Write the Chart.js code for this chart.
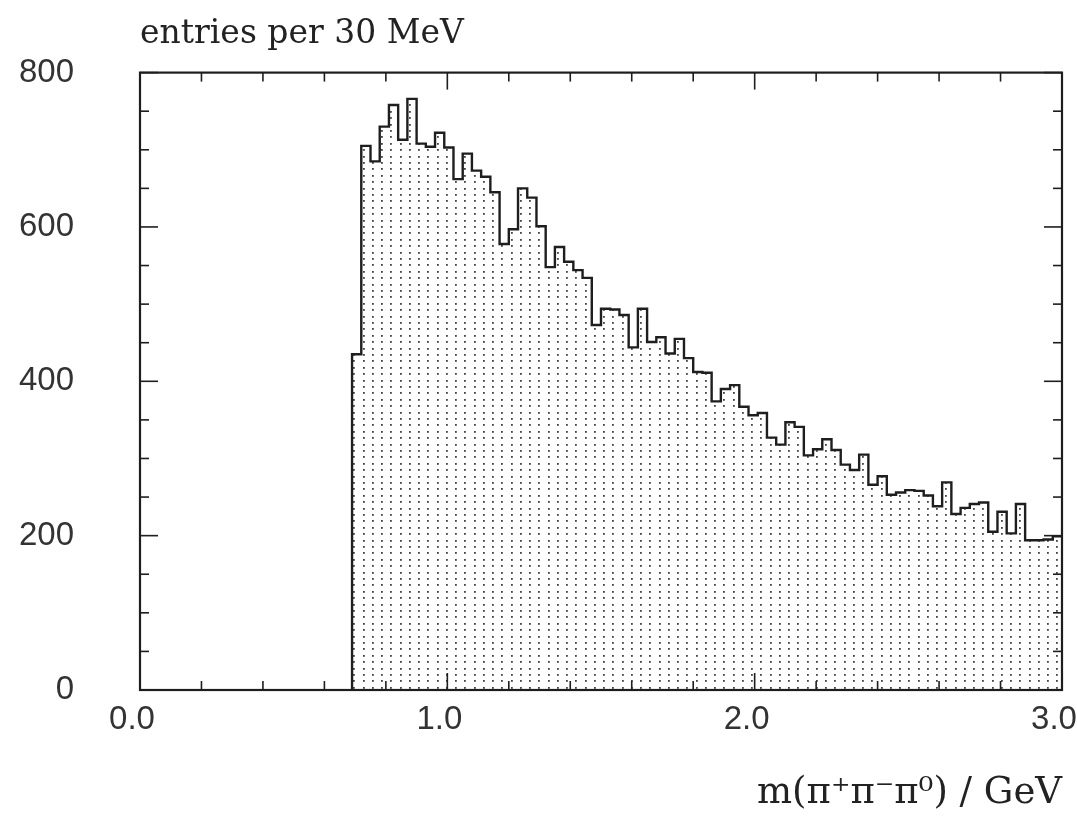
<!DOCTYPE html>
<html>
<head>
<meta charset="utf-8">
<script src="https://cdn.jsdelivr.net/npm/chart.js@4.4.1/dist/chart.umd.min.js"></script>
<style>
  html, body { margin: 0; padding: 0; background: #ffffff; }
  #wrap { width: 1077px; height: 821px; }
</style>
</head>
<body>
<div id="wrap"><canvas id="c" width="1077" height="821"></canvas></div>
<script>
// ---- data ----
const binEdges = [
  0.69, 0.72, 0.75, 0.78, 0.81, 0.84, 0.87, 0.90, 0.93, 0.96,
  0.99, 1.02, 1.05, 1.08, 1.11, 1.14, 1.17, 1.20, 1.23, 1.26,
  1.29, 1.32, 1.35, 1.38, 1.41, 1.44, 1.47, 1.50, 1.53, 1.56,
  1.59, 1.62, 1.65, 1.68, 1.71, 1.74, 1.77, 1.80, 1.83, 1.86,
  1.89, 1.92, 1.95, 1.98, 2.01, 2.04, 2.07, 2.10, 2.13, 2.16,
  2.19, 2.22, 2.25, 2.28, 2.31, 2.34, 2.37, 2.40, 2.43, 2.46,
  2.49, 2.52, 2.55, 2.58, 2.61, 2.64, 2.67, 2.70, 2.73, 2.76,
  2.79, 2.82, 2.85, 2.88, 2.91, 2.94, 2.97, 3.00
];
const counts = [
  435, 705, 685, 730, 758, 713, 766, 708, 704, 722,
  703, 662, 695, 673, 665, 645, 578, 597, 650, 638,
  601, 548, 574, 555, 544, 534, 473, 494, 493, 486,
  444, 494, 451, 457, 436, 455, 430, 412, 411, 374,
  390, 395, 367, 356, 359, 327, 318, 347, 341, 304,
  312, 325, 311, 292, 285, 305, 266, 277, 253, 256,
  259, 258, 252, 238, 269, 228, 236, 241, 243, 205,
  231, 203, 241, 194, 194, 195, 199
];
const xTickLabels = ['0.0', '1.0', '2.0', '3.0'];
const yTickLabels = ['0', '200', '400', '600', '800'];
const titleText = 'entries per 30 MeV';
const xAxisTitle = 'm(\u03C0\u207A\u03C0\u207B\u03C0\u2070) / GeV';

// ---- styles ----
const INK = '#1e1e1e';
const xMinorStep = 0.2, xMajorEvery = 5;
const yMinorStep = 50, yMajorEvery = 4;

const ctx = document.getElementById('c').getContext('2d');

// dotted fill pattern
const tile = document.createElement('canvas');
tile.width = 37; tile.height = 32;
const tctx = tile.getContext('2d');
tctx.fillStyle = '#444';
for (const px of [2, 11, 20, 30]) {
  for (const py of [2, 8, 15, 21, 28]) {
    tctx.fillRect(px, py, 1.8, 1.8);
  }
}
const dots = ctx.createPattern(tile, 'repeat');

// histogram outline points (lower bin edge carries bin value)
const points = [{ x: binEdges[0], y: 0 }];
counts.forEach((c, i) => points.push({ x: binEdges[i], y: c }));
points.push({ x: binEdges[binEdges.length - 1], y: counts[counts.length - 1] });

const frameTicks = {
  id: 'frameTicks',
  afterDraw(chart) {
    const { ctx, chartArea: a, scales: { x, y } } = chart;
    ctx.save();
    ctx.strokeStyle = INK;
    ctx.lineWidth = 2.2;
    ctx.strokeRect(a.left, a.top, a.right - a.left, a.bottom - a.top);
    ctx.lineWidth = 1.6;
    const seg = (x1, y1, x2, y2) => { ctx.beginPath(); ctx.moveTo(x1, y1); ctx.lineTo(x2, y2); ctx.stroke(); };
    const nx = Math.round((x.max - x.min) / xMinorStep);
    for (let k = 0; k <= nx; k++) {
      const px = x.getPixelForValue(x.min + k * xMinorStep);
      const len = (k % xMajorEvery === 0) ? 17 : 9;
      seg(px, a.bottom, px, a.bottom - len);
      seg(px, a.top, px, a.top + len);
    }
    const ny = Math.round((y.max - y.min) / yMinorStep);
    for (let k = 0; k <= ny; k++) {
      const py = y.getPixelForValue(y.min + k * yMinorStep);
      const len = (k % yMajorEvery === 0) ? 18 : 9;
      seg(a.left, py, a.left + len, py);
      seg(a.right, py, a.right - len, py);
    }
    ctx.restore();
  }
};

new Chart(ctx, {
  type: 'line',
  data: {
    datasets: [{
      data: points,
      stepped: 'before',
      borderColor: INK,
      borderWidth: 2.4,
      backgroundColor: dots,
      fill: 'origin',
      pointRadius: 0,
      tension: 0
    }]
  },
  options: {
    responsive: false,
    animation: false,
    devicePixelRatio: 1,
    layout: { padding: { left: 17, right: 15, top: 0, bottom: 3 } },
    plugins: {
      legend: { display: false },
      tooltip: { enabled: false },
      title: {
        display: true,
        text: titleText,
        align: 'start',
        fullSize: false,
        color: '#222',
        font: { family: 'DejaVu Serif', size: 33, weight: 'normal' },
        padding: { top: 15, bottom: 18 }
      }
    },
    scales: {
      x: {
        type: 'linear',
        min: 0, max: 3,
        grid: { display: false, drawTicks: false },
        border: { display: false },
        ticks: {
          stepSize: 1,
          autoSkip: false,
          maxRotation: 0,
          callback: (v, i) => xTickLabels[i] ?? '',
          color: '#333',
          font: { family: 'Liberation Sans', size: 33 },
          padding: 10,
          labelOffset: -8
        },
        title: {
          display: true,
          text: xAxisTitle,
          align: 'end',
          color: '#222',
          font: { family: 'DejaVu Serif', size: 37, weight: 'normal' },
          padding: { top: 5, bottom: 2 }
        },
        afterFit(s) { s.paddingRight = 0; s.paddingLeft = 0; s.height = 128; }
      },
      y: {
        min: 0, max: 800,
        grid: { display: false, drawTicks: false },
        border: { display: false },
        ticks: {
          stepSize: 200,
          callback: (v, i) => yTickLabels[i] ?? '',
          color: '#333',
          font: { family: 'Liberation Sans', size: 33 },
          padding: 66
        },
        afterFit(s) { s.width = 123; s.paddingTop = 0; s.paddingBottom = 0; }
      }
    }
  },
  plugins: [frameTicks]
});
</script>
</body>
</html>
